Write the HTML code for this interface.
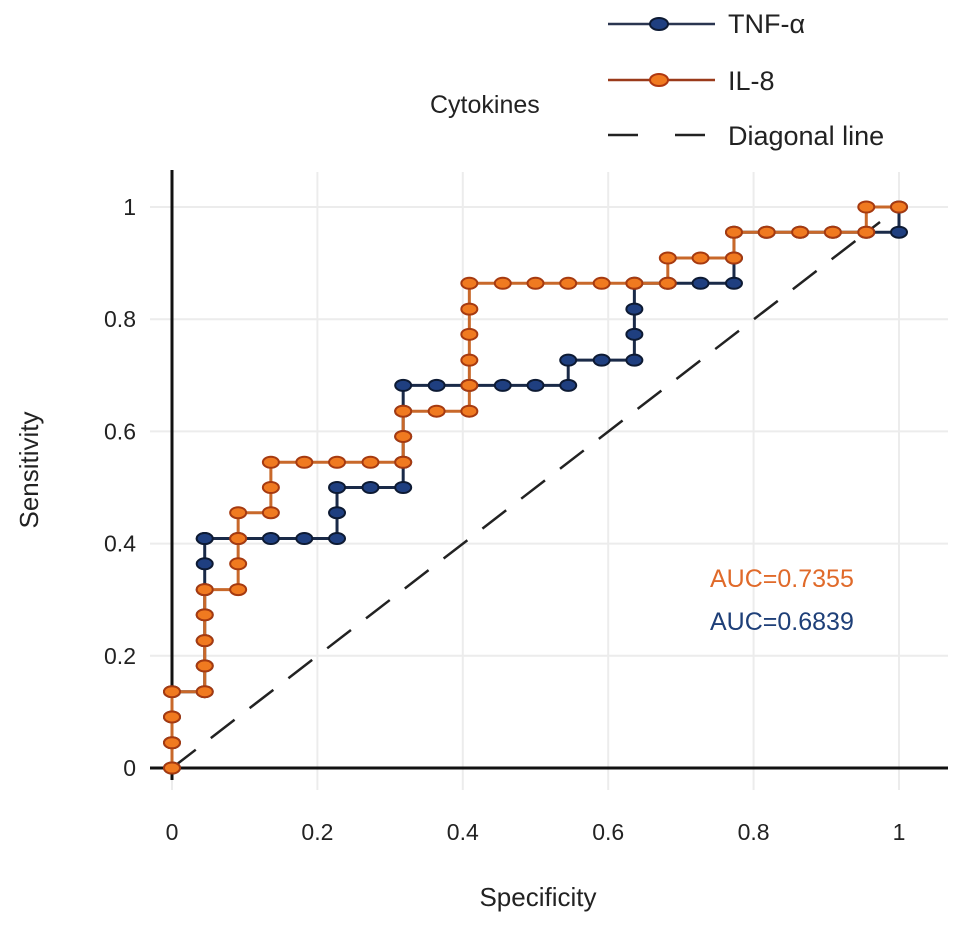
<!DOCTYPE html>
<html><head><meta charset="utf-8"><style>
html,body{margin:0;padding:0;background:#fff;}
svg{display:block;font-family:"Liberation Sans",sans-serif;}
</style></head><body>
<svg id="chart" width="969" height="926" viewBox="0 0 969 926">
<g id="grid"></g>
<g id="axes"></g>
<line x1="172" y1="768" x2="880" y2="222" stroke="#222" stroke-width="2.5" stroke-dasharray="30,19"/>
<g id="series"></g>
<text x="538" y="906" font-size="26" text-anchor="middle" fill="#222">Specificity</text>
<text transform="translate(38,470) rotate(-90)" font-size="26" text-anchor="middle" fill="#222">Sensitivity</text>
<text x="710" y="587" font-size="25" fill="#e06a2a">AUC=0.7355</text>
<text x="710" y="630" font-size="25" fill="#1e3f78">AUC=0.6839</text>
<g>
<text x="430" y="113" font-size="25" fill="#222">Cytokines</text>
<g>
<line x1="608" y1="24" x2="715" y2="24" stroke="#2a3550" stroke-width="2.5"/>
<ellipse cx="659" cy="24" rx="9" ry="6" fill="#1f3f80" stroke="#0d1a33" stroke-width="2"/>
<text x="728" y="33" font-size="27" fill="#222">TNF-α</text></g>
<g>
<line x1="608" y1="80" x2="715" y2="80" stroke="#9a3a1a" stroke-width="2.5"/>
<ellipse cx="659" cy="80" rx="9" ry="6" fill="#f07a20" stroke="#b03810" stroke-width="2"/>
<text x="728" y="90" font-size="27" fill="#222">IL-8</text></g>
<g>
<line x1="608" y1="135" x2="715" y2="135" stroke="#222" stroke-width="2.5" stroke-dasharray="30,37"/>
<text x="728" y="145" font-size="27" fill="#222">Diagonal line</text></g>
</g>
</svg>
<script>
const xTicks = [0, 0.2, 0.4, 0.6, 0.8, 1];
const yTicks = [0, 0.2, 0.4, 0.6, 0.8, 1];
const xTickLabels = ["0","0.2","0.4","0.6","0.8","1"];
const yTickLabels = ["0","0.2","0.4","0.6","0.8","1"];
const tnfX = [0,0,0,0,0.045,0.045,0.045,0.045,0.045,0.045,0.045,0.045,0.091,0.136,0.182,0.227,0.227,0.227,0.273,0.318,0.318,0.318,0.318,0.318,0.364,0.409,0.455,0.5,0.545,0.545,0.591,0.636,0.636,0.636,0.636,0.682,0.727,0.773,0.773,0.773,0.818,0.864,0.909,0.955,1,1];
const tnfY = [0,0.045,0.091,0.136,0.136,0.182,0.227,0.273,0.318,0.364,0.409,0.409,0.409,0.409,0.409,0.409,0.455,0.5,0.5,0.5,0.545,0.591,0.636,0.682,0.682,0.682,0.682,0.682,0.682,0.727,0.727,0.727,0.773,0.818,0.864,0.864,0.864,0.864,0.909,0.955,0.955,0.955,0.955,0.955,0.955,1];
const il8X = [0,0,0,0,0.045,0.045,0.045,0.045,0.045,0.091,0.091,0.091,0.091,0.136,0.136,0.136,0.182,0.227,0.273,0.318,0.318,0.318,0.364,0.409,0.409,0.409,0.409,0.409,0.409,0.455,0.5,0.545,0.591,0.636,0.682,0.682,0.727,0.773,0.773,0.818,0.864,0.909,0.955,0.955,1];
const il8Y = [0,0.045,0.091,0.136,0.136,0.182,0.227,0.273,0.318,0.318,0.364,0.409,0.455,0.455,0.5,0.545,0.545,0.545,0.545,0.545,0.591,0.636,0.636,0.636,0.682,0.727,0.773,0.818,0.864,0.864,0.864,0.864,0.864,0.864,0.864,0.909,0.909,0.909,0.955,0.955,0.955,0.955,0.955,1,1];

const NS = "http://www.w3.org/2000/svg";
function sx(v){ return 172 + v * 727; }
function sy(v){ return 768 - v * 561; }
function mk(tag, attrs, parent){
  const e = document.createElementNS(NS, tag);
  for (const k in attrs) e.setAttribute(k, attrs[k]);
  parent.appendChild(e);
  return e;
}
const grid = document.getElementById("grid");
const axes = document.getElementById("axes");
xTicks.forEach((t, i) => {
  const gl = mk("line", {x1: sx(t), x2: sx(t), y1: 172, y2: 790, stroke: "#ececec", "stroke-width": 2}, grid);
  
  
  const tx = mk("text", {x: sx(t), y: 840, "font-size": 23, "text-anchor": "middle", fill: "#222"}, axes);
  tx.textContent = xTickLabels[i];
  
  
});
yTicks.forEach((t, i) => {
  const gl = mk("line", {x1: 150, x2: 948, y1: sy(t), y2: sy(t), stroke: "#ececec", "stroke-width": 2}, grid);
  
  
  const tx = mk("text", {x: 136, y: sy(t) + 8, "font-size": 23, "text-anchor": "end", fill: "#222"}, axes);
  tx.textContent = yTickLabels[i];
  
  
});
const ya = mk("line", {x1: 172, x2: 172, y1: 170, y2: 780, stroke: "#111", "stroke-width": 3}, axes);


const xa = mk("line", {x1: 150, x2: 948, y1: 768, y2: 768, stroke: "#111", "stroke-width": 3}, axes);



const series = document.getElementById("series");
function drawSeries(xs, ys, line, fill, edge, name){
  const g = mk("g", {}, series);
  
  
  const pts = xs.map((x, i) => sx(x) + "," + sy(ys[i])).join(" ");
  const pl = mk("polyline", {points: pts, fill: "none", stroke: line, "stroke-width": 3}, g);
  
  
  xs.forEach((x, i) => {
    const m = mk("ellipse", {cx: sx(x), cy: sy(ys[i]), rx: 8, ry: 5.5, fill: fill, stroke: edge, "stroke-width": 2}, g);
    
    
  });
}
drawSeries(tnfX, tnfY, "#1a2a48", "#1f3f80", "#0d1a33", "tnf-series");
drawSeries(il8X, il8Y, "#c8682a", "#f07a20", "#a63a10", "il8-series");
</script>
</body></html>
